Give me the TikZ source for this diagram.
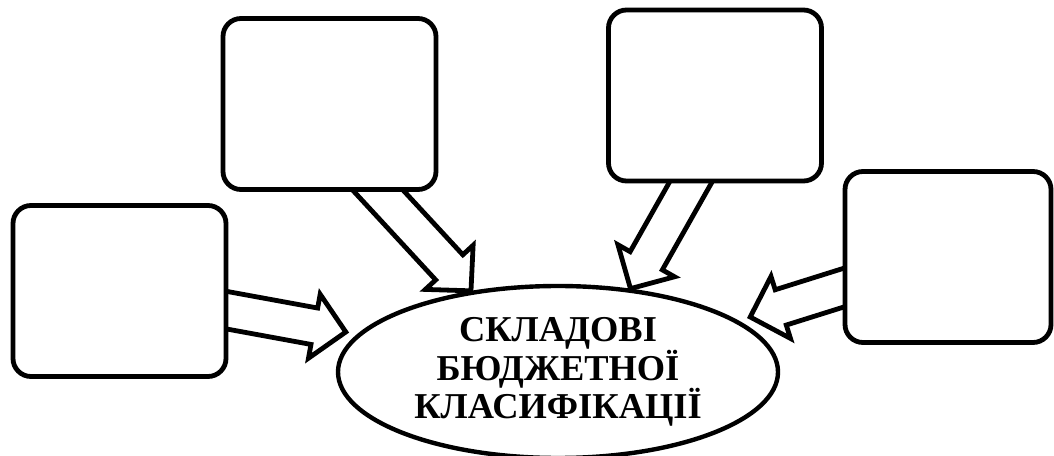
\documentclass[tikz,border=0pt]{standalone}
\usepackage{fontspec}
\setmainfont{Liberation Serif}
\usetikzlibrary{
  positioning,
  calc,
  backgrounds,
  shapes.geometric
}
\tikzset{
  box/.style = {draw, line width=2.4pt, rounded corners=9pt, fill=white,
                minimum width=106.5pt, minimum height=85.5pt},
  hub/.style = {draw, ellipse, line width=2.2pt, fill=white, align=center,
                inner sep=0pt, minimum width=220pt, minimum height=86pt,
                font=\fontsize{18.2}{19.4}\selectfont\bfseries},
  fat/.style = {draw, line width=2.4pt, fill=white, line join=miter},
}

\begin{document}
\begin{tikzpicture}[x=0.5pt, y=0.5pt]
\useasboundingbox (0,0) rectangle (1054,455);

\node[hub] (hub) at (558,83) {СКЛАДОВІ\\БЮДЖЕТНОЇ\\КЛАСИФІКАЦІЇ};

\node[box] (b1) at (119.5,164) {};
\node[box] (b2) at (329.5,351) {};
\node[box] (b3) at (715,359.5) {};
\node[box, minimum width=103pt] (b4) at (948,198) {};

\coordinate (outA) at ($(b1.east)+(0,-19.5)$);
\coordinate (outB) at ($(b2.south)+(50,0)$);
\coordinate (outC) at ($(b3.south)+(-25,0)$);
\coordinate (outD) at ($(b4.west)+(0,-31)$);
\coordinate (inA) at ($(hub.west)+(10,40)$);
\coordinate (inB) at (hub.137);
\coordinate (inC) at (hub.49);
\coordinate (inD) at ($(hub.east)+(-30,55)$);

% block arrows sit behind the boxes
\begin{scope}[on background layer]
\foreach \s/\t in {outA/inA, outB/inB, outC/inC, outD/inD}{
  \coordinate (p) at ($(\s)!-20pt!(\t)$);
  \coordinate (q) at ($(\t)!16pt!(\s)$);
  \draw[fat] ($(p)!9.25pt!90:(\t)$) -- ($(q)!9.25pt!90:(\t)$)
    -- ($(q)!16.25pt!90:(\t)$) -- (\t) -- ($(q)!16.25pt!-90:(\t)$)
    -- ($(q)!9.25pt!-90:(\t)$) -- ($(p)!9.25pt!-90:(\t)$) -- cycle;
}
\end{scope}
\end{tikzpicture}
\end{document}
